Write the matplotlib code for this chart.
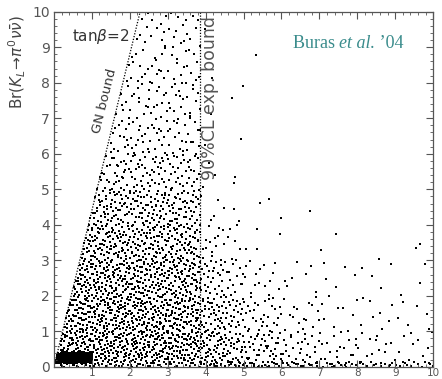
import numpy as np
import matplotlib
matplotlib.use('Agg')
import matplotlib.pyplot as plt
from matplotlib.ticker import MultipleLocator
from matplotlib.offsetbox import TextArea, HPacker, AnnotationBbox

# x = Br(K+ -> pi+ nu nu) [1e-10], y = Br(KL -> pi0 nu nu) [1e-10]
# scan density: points per unit area, rows = y bins, cols = x bins
x_edges = [0, 0.5, 1, 1.5, 2, 2.5, 3, 3.5, 3.85, 4.5, 5, 6, 7, 8, 9, 10]
y_edges = [0, 1, 2, 3, 4, 5, 6, 7, 8, 9, 10]
density = [
    [120, 120, 120, 120, 120, 120, 118, 115, 85, 70, 50, 30, 20, 14, 10],
    [110, 110, 110, 110, 110, 108, 105, 100, 65, 50, 30, 15, 10, 8, 6],
    [100, 100, 100, 100, 98, 95, 92, 88, 45, 30, 15, 7, 5, 4, 3],
    [85, 85, 85, 85, 85, 82, 80, 75, 25, 12, 0, 0, 0, 0, 0],
    [68, 68, 68, 68, 66, 64, 62, 58, 8, 4, 0, 0, 0, 0, 0],
    [42, 42, 42, 42, 42, 42, 40, 38, 4, 0, 0, 0, 0, 0, 0],
    [28, 28, 28, 28, 28, 28, 28, 28, 2, 0, 0, 0, 0, 0, 0],
    [24, 24, 24, 24, 24, 24, 24, 24, 1, 0, 0, 0, 0, 0, 0],
    [20, 20, 20, 20, 20, 20, 20, 20, 1, 0, 0, 0, 0, 0, 0],
    [18, 18, 18, 18, 18, 18, 18, 18, 1, 0, 0, 0, 0, 0, 0],
]

# dense cluster near the origin and the thin band of points along y ~ 0
extra_cells = [  # x0, x1, y0, y1, density
    (0.02, 1.02, 0.10, 0.42, 1000),
    (3.85, 10.0, 0.00, 0.15, 80),
]

# isolated points in the sparse region (read individually)
sparse_x = [5.33, 5.44, 5.66, 6.74, 5.99, 5.35, 5.97, 7.44, 5.07, 5.36, 7.03,
            9.66, 9.56, 8.56, 4.98, 4.69, 4.92, 4.78, 4.76]
sparse_y = [8.79, 4.62, 4.73, 4.39, 4.20, 3.87, 3.75, 3.75, 3.31, 3.32, 3.29,
            3.47, 3.35, 3.04, 7.90, 7.57, 6.43, 5.36, 5.19]

gn_slope = 4.4       # Grossman-Nir bound: Br(KL) < 4.4 Br(K+)
exp_bound = 3.85     # 90% CL experimental bound on Br(K+)


def radical_inverse(idx, base):
    out = np.zeros(len(idx))
    f = 1.0 / base
    i = idx.copy()
    while np.any(i > 0):
        out += f * (i % base)
        i //= base
        f /= base
    return out


def fill_cell(x0, x1, y0, y1, dens, start):
    # deterministic Halton (2, 3) filling of one cell
    n = int(round(dens * (x1 - x0) * (y1 - y0)))
    idx = np.arange(start, start + n)
    u = radical_inverse(idx, 2)
    v = radical_inverse(idx, 3)
    return x0 + u * (x1 - x0), y0 + v * (y1 - y0), n


cells = []
for i in range(len(y_edges) - 1):
    for j in range(len(x_edges) - 1):
        cells.append((x_edges[j], x_edges[j + 1], y_edges[i], y_edges[i + 1], density[i][j]))
cells += extra_cells

xs, ys = [], []
k = 37
for c in cells:
    px, py, n = fill_cell(*c, k)
    k += n + 11
    xs.append(px)
    ys.append(py)
xs = np.concatenate(xs)
ys = np.concatenate(ys)
keep = ys < gn_slope * xs
xs, ys = xs[keep], ys[keep]

fig = plt.figure(figsize=(4.42, 3.79), dpi=100)
ax = fig.add_axes([0.122, 0.032, 0.858, 0.937])

ax.scatter(xs, ys, s=2.2, marker='s', c='black', linewidths=0)
ax.scatter(sparse_x, sparse_y, s=2.2, marker='s', c='black', linewidths=0)

ax.plot([0, 10 / gn_slope], [0, 10], color='black', ls=(0, (1, 1.3)), lw=0.9)
ax.plot([exp_bound, exp_bound], [0, 10], color='black', ls=(0, (1, 1.3)), lw=0.9)

ax.set_xlim(0, 10)
ax.set_ylim(0, 10)
ax.xaxis.set_major_locator(MultipleLocator(1))
ax.yaxis.set_major_locator(MultipleLocator(1))
ax.xaxis.set_minor_locator(MultipleLocator(0.2))
ax.yaxis.set_minor_locator(MultipleLocator(0.2))
ax.tick_params(which='both', direction='in', top=True, right=True, color='#555555',
               labelcolor='#555555')
ax.tick_params(which='major', length=5, width=0.8)
ax.tick_params(which='minor', length=2.5, width=0.6)
ax.tick_params(axis='x', pad=1, labelsize=7.5)
ax.tick_params(axis='y', pad=3, labelsize=10)
ax.set_xticks(range(1, 11))
for s in ax.spines.values():
    s.set_color('#555555')
    s.set_linewidth(0.9)

fig.text(17 / 442, 1 - 62 / 379, r'Br$(K_L\!\rightarrow\!\pi^0\nu\bar\nu)$', rotation=90,
         ha='center', va='center', fontsize=11, color='#444444')

ax.text(0.47, 9.3, r'tan$\beta$=2', fontsize=11, color='#333333', ha='left', va='center')
ax.text(1.35, 7.5, 'GN bound', rotation=76, fontsize=9.5, color='#333333',
        ha='center', va='center')
ax.text(4.12, 9.88, '90%CL exp. bound', rotation=90, fontsize=12.5, color='#555555',
        ha='center', va='top')

serif = dict(color='#3a8c8c', size=13, family='Liberation Serif')
label = HPacker(children=[TextArea('Buras ', textprops=serif),
                          TextArea('et al.', textprops=dict(serif, style='italic')),
                          TextArea(' \u201904', textprops=serif)],
                align='baseline', pad=0, sep=0)
ax.add_artist(AnnotationBbox(label, (7.76, 9.1), xycoords='data', frameon=False,
                             box_alignment=(0.5, 0.5)))

fig.savefig('out.png', dpi=100)
